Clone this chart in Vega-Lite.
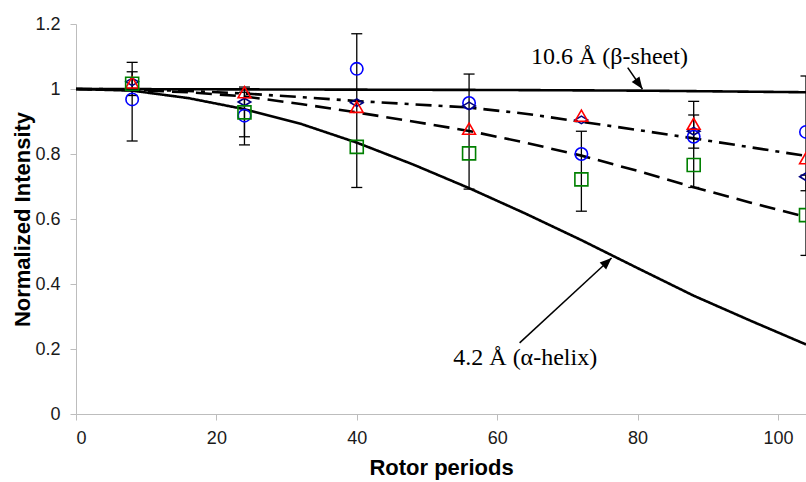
{
  "$schema": "https://vega.github.io/schema/vega-lite/v6.json",
  "width": 730,
  "height": 390,
  "autosize": {"type": "none"},
  "padding": {"left": 76, "top": 24, "right": 0, "bottom": 68},
  "background": "white",
  "config": {
    "view": {"stroke": null},
    "axis": {
      "grid": false,
      "domainColor": "#bdbdbd",
      "domainWidth": 1,
      "tickColor": "#bdbdbd",
      "tickSize": 6,
      "labelFont": "Liberation Sans",
      "labelFontSize": 18,
      "labelColor": "#1a1a1a",
      "titleFont": "Liberation Sans",
      "titleFontSize": 22,
      "titleFontWeight": "bold",
      "titleColor": "#000000"
    }
  },
  "datasets": {
    "curves": [
      {"curve": "beta", "x": 0, "y": 1.0}, {"curve": "beta", "x": 20, "y": 0.999}, {"curve": "beta", "x": 40, "y": 0.998}, {"curve": "beta", "x": 60, "y": 0.997}, {"curve": "beta", "x": 80, "y": 0.995}, {"curve": "beta", "x": 90, "y": 0.993}, {"curve": "beta", "x": 104, "y": 0.99},
      {"curve": "dashdot", "x": 0, "y": 1.0}, {"curve": "dashdot", "x": 8, "y": 0.999}, {"curve": "dashdot", "x": 16, "y": 0.994}, {"curve": "dashdot", "x": 24, "y": 0.986}, {"curve": "dashdot", "x": 32, "y": 0.975}, {"curve": "dashdot", "x": 40, "y": 0.963}, {"curve": "dashdot", "x": 48, "y": 0.953}, {"curve": "dashdot", "x": 56, "y": 0.943}, {"curve": "dashdot", "x": 64, "y": 0.924}, {"curve": "dashdot", "x": 72, "y": 0.899}, {"curve": "dashdot", "x": 80, "y": 0.874}, {"curve": "dashdot", "x": 88, "y": 0.848}, {"curve": "dashdot", "x": 96, "y": 0.821}, {"curve": "dashdot", "x": 104, "y": 0.794},
      {"curve": "dashed", "x": 0, "y": 1.0}, {"curve": "dashed", "x": 8, "y": 0.997}, {"curve": "dashed", "x": 16, "y": 0.99}, {"curve": "dashed", "x": 24, "y": 0.977}, {"curve": "dashed", "x": 32, "y": 0.954}, {"curve": "dashed", "x": 40, "y": 0.928}, {"curve": "dashed", "x": 48, "y": 0.9}, {"curve": "dashed", "x": 56, "y": 0.871}, {"curve": "dashed", "x": 64, "y": 0.835}, {"curve": "dashed", "x": 72, "y": 0.795}, {"curve": "dashed", "x": 80, "y": 0.748}, {"curve": "dashed", "x": 88, "y": 0.698}, {"curve": "dashed", "x": 96, "y": 0.651}, {"curve": "dashed", "x": 104, "y": 0.606},
      {"curve": "alpha", "x": 0, "y": 1.0}, {"curve": "alpha", "x": 8, "y": 0.995}, {"curve": "alpha", "x": 16, "y": 0.972}, {"curve": "alpha", "x": 24, "y": 0.938}, {"curve": "alpha", "x": 32, "y": 0.893}, {"curve": "alpha", "x": 40, "y": 0.835}, {"curve": "alpha", "x": 48, "y": 0.768}, {"curve": "alpha", "x": 56, "y": 0.695}, {"curve": "alpha", "x": 64, "y": 0.617}, {"curve": "alpha", "x": 72, "y": 0.535}, {"curve": "alpha", "x": 80, "y": 0.449}, {"curve": "alpha", "x": 88, "y": 0.364}, {"curve": "alpha", "x": 96, "y": 0.288}, {"curve": "alpha", "x": 104, "y": 0.214}
    ],
    "points": [
      {"series": "circle", "x": 8, "y": 0.968}, {"series": "circle", "x": 24, "y": 0.918}, {"series": "circle", "x": 40, "y": 1.062}, {"series": "circle", "x": 56, "y": 0.957}, {"series": "circle", "x": 72, "y": 0.8}, {"series": "circle", "x": 88, "y": 0.853}, {"series": "circle", "x": 104, "y": 0.868},
      {"series": "diamond", "x": 8, "y": 1.022}, {"series": "diamond", "x": 24, "y": 0.96}, {"series": "diamond", "x": 40, "y": 0.958}, {"series": "diamond", "x": 56, "y": 0.948}, {"series": "diamond", "x": 72, "y": 0.905}, {"series": "diamond", "x": 88, "y": 0.87}, {"series": "diamond", "x": 104, "y": 0.73},
      {"series": "triangle", "x": 8, "y": 1.02}, {"series": "triangle", "x": 24, "y": 0.99}, {"series": "triangle", "x": 40, "y": 0.945}, {"series": "triangle", "x": 56, "y": 0.878}, {"series": "triangle", "x": 72, "y": 0.918}, {"series": "triangle", "x": 88, "y": 0.893}, {"series": "triangle", "x": 104, "y": 0.787},
      {"series": "square", "x": 8, "y": 1.016}, {"series": "square", "x": 24, "y": 0.928}, {"series": "square", "x": 40, "y": 0.822}, {"series": "square", "x": 56, "y": 0.802}, {"series": "square", "x": 72, "y": 0.722}, {"series": "square", "x": 88, "y": 0.766}, {"series": "square", "x": 104, "y": 0.612}
    ],
    "errors": [
      {"x": 8, "lo": 0.84, "hi": 1.082}, {"x": 8, "lo": 0.98, "hi": 1.053},
      {"x": 24, "lo": 0.828, "hi": 1.006}, {"x": 24, "lo": 0.853, "hi": 0.99},
      {"x": 40, "lo": 0.697, "hi": 1.17},
      {"x": 56, "lo": 0.692, "hi": 1.046},
      {"x": 72, "lo": 0.624, "hi": 0.87},
      {"x": 88, "lo": 0.697, "hi": 0.962}, {"x": 88, "lo": 0.818, "hi": 0.92},
      {"x": 104, "lo": 0.687, "hi": 1.04}, {"x": 104, "lo": 0.488, "hi": 0.735}
    ],
    "labels": [
      {"x": 76.0, "y": 1.099, "text": "10.6 Å (β-sheet)"},
      {"x": 64.0, "y": 0.172, "text": "4.2 Å (α-helix)"}
    ],
    "arrows": [
      {"arrow": "beta", "x": 78.6, "y": 1.066, "x2": 80.7, "y2": 1.0},
      {"arrow": "alpha", "x": 63.2, "y": 0.219, "x2": 76.3, "y2": 0.48}
    ]
  },
  "encoding": {
    "x": {
      "field": "x",
      "type": "quantitative",
      "scale": {"domain": [0, 104], "nice": false, "zero": false},
      "axis": {"title": "Rotor periods", "values": [0, 20, 40, 60, 80, 100], "labelPadding": 9, "titlePadding": 10}
    }
  },
  "layer": [
    {
      "data": {"name": "curves"},
      "mark": {"type": "line", "color": "black", "strokeWidth": 2.6},
      "encoding": {
        "y": {
          "field": "y",
          "type": "quantitative",
          "scale": {"domain": [0, 1.2], "nice": false},
          "axis": {"title": "Normalized Intensity", "values": [0, 0.2, 0.4, 0.6, 0.8, 1, 1.2], "format": "~g", "labelPadding": 10, "titlePadding": 0}
        },
        "detail": {"field": "curve"},
        "strokeDash": {
          "field": "curve",
          "type": "nominal",
          "scale": {"domain": ["beta", "dashdot", "dashed", "alpha"], "range": [[1, 0], [16, 7, 4, 7], [16, 8], [1, 0]]},
          "legend": null
        }
      }
    },
    {
      "data": {"name": "errors"},
      "mark": {"type": "rule", "color": "black", "strokeWidth": 1.3},
      "encoding": {
        "y": {"field": "lo", "type": "quantitative", "title": "Normalized Intensity"},
        "y2": {"field": "hi"}
      }
    },
    {
      "data": {"name": "errors"},
      "mark": {"type": "point", "shape": "stroke", "size": 121, "color": "black", "strokeWidth": 1.3, "filled": false, "opacity": 1},
      "encoding": {"y": {"field": "lo", "type": "quantitative", "title": "Normalized Intensity"}}
    },
    {
      "data": {"name": "errors"},
      "mark": {"type": "point", "shape": "stroke", "size": 121, "color": "black", "strokeWidth": 1.3, "filled": false, "opacity": 1},
      "encoding": {"y": {"field": "hi", "type": "quantitative", "title": "Normalized Intensity"}}
    },
    {
      "data": {"name": "points"},
      "mark": {"type": "point", "filled": false, "strokeWidth": 1.6, "opacity": 1},
      "encoding": {
        "y": {"field": "y", "type": "quantitative", "title": "Normalized Intensity"},
        "shape": {
          "field": "series",
          "type": "nominal",
          "scale": {"domain": ["circle", "diamond", "triangle", "square"], "range": ["circle", "M-1,0L0,-0.6L1,0L0,0.6Z", "triangle-up", "square"]},
          "legend": null
        },
        "color": {
          "field": "series",
          "type": "nominal",
          "scale": {"domain": ["circle", "diamond", "triangle", "square"], "range": ["#0000ff", "#000080", "#ff0000", "#008000"]},
          "legend": null
        },
        "size": {
          "field": "series",
          "type": "nominal",
          "scale": {"domain": ["circle", "diamond", "triangle", "square"], "range": [154, 169, 220, 160]},
          "legend": null
        }
      }
    },
    {
      "data": {"name": "labels"},
      "mark": {"type": "text", "font": "Liberation Serif", "fontSize": 24, "color": "black", "align": "center", "baseline": "middle"},
      "encoding": {
        "y": {"field": "y", "type": "quantitative", "title": "Normalized Intensity"},
        "text": {"field": "text"}
      }
    },
    {
      "data": {"name": "arrows"},
      "mark": {"type": "rule", "color": "black", "strokeWidth": 1.5},
      "encoding": {
        "y": {"field": "y", "type": "quantitative", "title": "Normalized Intensity"},
        "x2": {"field": "x2"},
        "y2": {"field": "y2"}
      }
    },
    {
      "data": {"name": "arrows"},
      "transform": [{"filter": "datum.arrow === 'alpha'"}],
      "mark": {"type": "point", "shape": "M0,0L-0.4,1L0.4,1Z", "size": 560, "filled": true, "color": "black", "opacity": 1, "angle": 47},
      "encoding": {
        "x": {"field": "x2", "type": "quantitative", "title": "Rotor periods"},
        "y": {"field": "y2", "type": "quantitative", "title": "Normalized Intensity"}
      }
    },
    {
      "data": {"name": "arrows"},
      "transform": [{"filter": "datum.arrow === 'beta'"}],
      "mark": {"type": "point", "shape": "M0,0L-0.4,1L0.4,1Z", "size": 560, "filled": true, "color": "black", "opacity": 1, "angle": 144.5},
      "encoding": {
        "x": {"field": "x2", "type": "quantitative", "title": "Rotor periods"},
        "y": {"field": "y2", "type": "quantitative", "title": "Normalized Intensity"}
      }
    }
  ]
}
